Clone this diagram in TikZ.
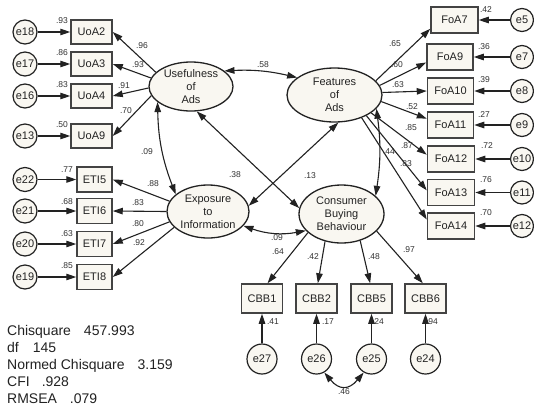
\documentclass[tikz,border=0pt]{standalone}
\usepackage{fontspec}
\setmainfont{Liberation Sans}
\usetikzlibrary{shapes.geometric,arrows.meta}
\definecolor{ink}{HTML}{222222}
\definecolor{boxfill}{HTML}{F9F7F1}
\definecolor{labc}{HTML}{333333}
\tikzset{
  arr/.style={-{Triangle[length=10pt,width=6.5pt]}},
  darr/.style={{Triangle[length=10pt,width=6.5pt]}-{Triangle[length=10pt,width=6.5pt]}},
  conn/.style={draw=ink, line width=1.1pt},
  obs/.style={draw=ink!85, fill=boxfill, line width=1.5pt, rectangle, inner sep=0pt,
    minimum height=25pt, font=\fontsize{11}{13}\selectfont, text=ink},
  err/.style={draw=ink, fill=boxfill, line width=1.2pt, circle, inner sep=0pt,
    minimum size=24pt, font=\fontsize{11}{13}\selectfont, text=ink},
  lat/.style={draw=ink, fill=boxfill, line width=1.3pt, ellipse, inner sep=0pt},
  lattext/.style={font=\fontsize{11}{13}\selectfont, align=center, text=ink, inner sep=0pt},
  lab/.style={font=\fontsize{8.5}{10}\selectfont, text=labc, inner sep=0pt},
  fitline/.style={font=\fontsize{14}{17}\selectfont, text=ink, anchor=base west, inner sep=0pt},
}
\begin{document}
\begin{tikzpicture}[x=1pt,y=-1pt]
\useasboundingbox[fill=white] (0,0) rectangle (534,410);

% latent variables
\node[lat, minimum width=84pt, minimum height=49pt, label={[lattext]center:{Usefulness\\of\\Ads}}] (U) at (191,86.5) {};
\node[lat, minimum width=95pt, minimum height=54pt, label={[lattext]center:{Features\\of\\Ads}}] (F) at (334.5,95) {};
\node[lat, minimum width=82pt, minimum height=53pt, label={[lattext]center:{Exposure\\to\\Information}}] (E) at (208,211.5) {};
\node[lat, minimum width=85pt, minimum height=58pt, label={[lattext]center:{Consumer\\Buying\\Behaviour}}] (C) at (341.5,214) {};

% UoA indicators
\node[obs, minimum width=41pt, minimum height=24pt] (UoA2) at (91.5,32) {UoA2};
\node[obs, minimum width=41pt, minimum height=24pt] (UoA3) at (91.5,64) {UoA3};
\node[obs, minimum width=41pt, minimum height=24pt] (UoA4) at (91.5,96) {UoA4};
\node[obs, minimum width=41pt, minimum height=24pt] (UoA9) at (91.5,136) {UoA9};
\node[err] (e18) at (25,32) {e18};
\node[err] (e17) at (25,64) {e17};
\node[err] (e16) at (25,96) {e16};
\node[err] (e13) at (25,136) {e13};

% ETI indicators
\node[obs, minimum width=35pt] (ETI5) at (94.5,179.5) {ETI5};
\node[obs, minimum width=35pt] (ETI6) at (94.5,211) {ETI6};
\node[obs, minimum width=35pt] (ETI7) at (94.5,244) {ETI7};
\node[obs, minimum width=35pt] (ETI8) at (94.5,277) {ETI8};
\node[err] (e22) at (25,179.5) {e22};
\node[err] (e21) at (25,211) {e21};
\node[err] (e20) at (25,244) {e20};
\node[err] (e19) at (25,277) {e19};

% FoA indicators
\node[obs, minimum width=47pt, minimum height=26pt] (FoA7) at (454.5,20) {FoA7};
\node[obs, minimum width=46pt, minimum height=26pt] (FoA9) at (450,57) {FoA9};
\node[obs, minimum width=46pt, minimum height=26pt] (FoA10) at (450.5,91) {FoA10};
\node[obs, minimum width=46pt, minimum height=26pt] (FoA11) at (450.5,125) {FoA11};
\node[obs, minimum width=47pt, minimum height=26pt] (FoA12) at (451,159) {FoA12};
\node[obs, minimum width=47pt, minimum height=26pt] (FoA13) at (451,192.5) {FoA13};
\node[obs, minimum width=47pt, minimum height=26pt] (FoA14) at (451,226) {FoA14};
\node[err, minimum size=23pt] (e5) at (522,20) {e5};
\node[err, minimum size=23pt] (e7) at (522,57) {e7};
\node[err, minimum size=23pt] (e8) at (522,91) {e8};
\node[err, minimum size=23pt] (e9) at (522,125) {e9};
\node[err, minimum size=23pt] (e10) at (522,159) {e10};
\node[err, minimum size=23pt] (e11) at (522,192.5) {e11};
\node[err, minimum size=23pt] (e12) at (522,226) {e12};

% CBB indicators
\node[obs, minimum width=41pt, minimum height=29pt] (CBB1) at (262,298.5) {CBB1};
\node[obs, minimum width=41pt, minimum height=29pt] (CBB2) at (316.5,298.5) {CBB2};
\node[obs, minimum width=41pt, minimum height=29pt] (CBB5) at (371.5,298.5) {CBB5};
\node[obs, minimum width=41pt, minimum height=29pt] (CBB6) at (425.5,298.5) {CBB6};
\node[err, minimum size=30pt] (e27) at (262,359) {e27};
\node[err, minimum size=30pt] (e26) at (316.5,359) {e26};
\node[err, minimum size=30pt] (e25) at (371.5,359) {e25};
\node[err, minimum size=30pt] (e24) at (425.5,359) {e24};

% error arrows
\foreach \e/\b in {e18/UoA2,e17/UoA3,e16/UoA4,e13/UoA9,e22/ETI5,e21/ETI6,e20/ETI7,e19/ETI8}
  \draw[conn,arr] (\e) -- (\b.west);
\foreach \e/\b in {e5/FoA7,e7/FoA9,e8/FoA10,e9/FoA11,e10/FoA12,e11/FoA13,e12/FoA14}
  \draw[conn,arr] (\e) -- (\b.east);
\foreach \e/\b in {e27/CBB1,e26/CBB2,e25/CBB5,e24/CBB6}
  \draw[conn,arr] (\e) -- (\b.south);

% loadings
\draw[conn,arr] (U.158) -- (UoA2.east);
\draw[conn,arr] (U.168) -- (UoA3.east);
\draw[conn,arr] (U.182) -- (UoA4.east);
\draw[conn,arr] (U.193) -- (UoA9.east);
\draw[conn,arr] (E.165) -- (ETI5.east);
\draw[conn,arr] (E.180) -- (ETI6.east);
\draw[conn,arr] (E.195) -- (ETI7.east);
\draw[conn,arr] (E.205) -- (ETI8.east);
\draw[conn,arr] (F.19) -- (FoA7.200);
\draw[conn,arr] (F.12) -- (FoA9.193);
\draw[conn,arr] (F.3) -- (FoA10.west);
\draw[conn,arr] (F.-8) -- (FoA11.165);
\draw[conn,arr] (F.-26) -- (FoA12.170);
\draw[conn,arr] (F.-33) -- (FoA13.175);
\draw[conn,arr] (F.-40) -- (FoA14.165);
\draw[conn,arr] (C.209) -- (CBB1.70);
\draw[conn,arr] (C.239) -- (CBB2.85);
\draw[conn,arr] (C.305) -- (CBB5.95);
\draw[conn,arr] (C.334) -- (CBB6.100);

% structural / covariances
\draw[conn,darr] (U.25) to[bend left=8] (F.155);
\draw[conn,darr] (U.205) to[bend right=10] (E.152);
\draw[conn,darr] (U.283) -- (C.172);
\draw[conn,darr] (F.278) -- (E.8);
\draw[conn,darr] (E.338) to[bend right=15] (C.205);
\draw[conn,darr] (F.-18) to[bend left=8] (C.28);
\draw[conn,darr] (e26.-60) to[bend right=50, looseness=1.5] (e25.-120);

% labels: error variances / R2
\node[lab] (r1) at (62,21) {.93};
\node[lab] (r2) at (62,53) {.86};
\node[lab] (r3) at (62,85) {.83};
\node[lab] (r4) at (62,125) {.50};
\node[lab] (r5) at (67,170) {.77};
\node[lab] (r6) at (67,202) {.68};
\node[lab] (r7) at (67,234) {.63};
\node[lab] (r8) at (67,266) {.85};
\node[lab] (r9) at (486,10) {.42};
\node[lab] (r10) at (484,47) {.36};
\node[lab] (r11) at (484,80) {.39};
\node[lab] (r12) at (484,115) {.27};
\node[lab] (r13) at (487,146) {.72};
\node[lab] (r14) at (486,180) {.76};
\node[lab] (r15) at (486,213) {.70};
\node[lab] (r16) at (273,322) {.41};
\node[lab] (r17) at (328,322) {.17};
\node[lab] (r18) at (378,322) {.24};
\node[lab] (r19) at (432,322) {.94};

% labels: coefficients
\node[lab] (c1) at (142,46) {.96};
\node[lab] (c2) at (138,65) {.93};
\node[lab] (c3) at (124,86) {.91};
\node[lab] (c4) at (126,111) {.70};
\node[lab] (c5) at (147,152) {.09};
\node[lab] (c6) at (263,65) {.58};
\node[lab] (c7) at (235,174.5) {.38};
\node[lab] (c8) at (310,176) {.13};
\node[lab] (c9) at (277,238) {.09};
\node[lab] (c10) at (389,152) {.44};
\node[lab] (c11) at (153,184) {.88};
\node[lab] (c12) at (138,203) {.83};
\node[lab] (c13) at (138,224) {.80};
\node[lab] (c14) at (139,243) {.92};
\node[lab] (c15) at (395,44) {.65};
\node[lab] (c16) at (397,65) {.60};
\node[lab] (c17) at (398,85) {.63};
\node[lab] (c18) at (412,107) {.52};
\node[lab] (c19) at (411,128) {.85};
\node[lab] (c20) at (407,146) {.87};
\node[lab] (c21) at (406,164) {.83};
\node[lab] (c22) at (278,252) {.64};
\node[lab] (c23) at (313,257) {.42};
\node[lab] (c24) at (374,257) {.48};
\node[lab] (c25) at (409,250) {.97};
\node[lab] (c26) at (344,392) {.46};

% fit statistics
\node[fitline] (fit1) at (7,335) {Chisquare\hspace{13pt}457.993};
\node[fitline] (fit2) at (7,352) {df\hspace{14pt}145};
\node[fitline] (fit3) at (7,369) {Normed Chisquare\hspace{13pt}3.159};
\node[fitline] (fit4) at (7,386) {CFI\hspace{12pt}.928};
\node[fitline] (fit5) at (7,403) {RMSEA\hspace{13pt}.079};
\end{tikzpicture}
\end{document}
